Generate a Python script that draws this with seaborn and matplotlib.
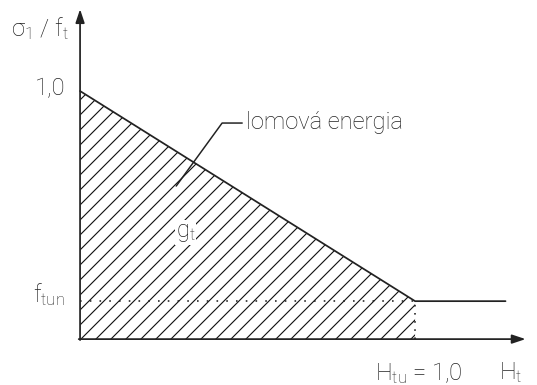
import matplotlib
matplotlib.use("Agg")
import matplotlib.pyplot as plt
import seaborn as sns
import pandas as pd

# values
curve_x = [0.0, 1.0, 1.27]      # H_t
curve_y = [1.0, 0.153, 0.153]   # sigma_1 / f_t
f_tun = 0.153
h_tu = 1.0
x_end = 1.33
y_end = 1.33

sns.set_style("white")
plt.rcParams['font.family'] = ['Roboto', 'DejaVu Sans']
plt.rcParams['font.weight'] = 'light'
plt.rcParams['mathtext.default'] = 'regular'
plt.rcParams['hatch.linewidth'] = 0.9
plt.rcParams['hatch.color'] = '#111111'

dpi = 90
fig = plt.figure(figsize=(537 / dpi, 385 / dpi), dpi=dpi)
ax = fig.add_axes([0, 0, 1, 1])
ax.set_xlim(-0.239, 1.364)
ax.set_ylim(-0.185, 1.367)
ax.axis('off')

lc = '#222222'

# hatched area (fracture energy)
ax.fill_between(curve_x[:2], curve_y[:2], 0, facecolor='none',
                edgecolor='#111111', hatch='//', linewidth=0)

# softening curve
df = pd.DataFrame({'H': curve_x, 's': curve_y})
sns.lineplot(data=df, x='H', y='s', ax=ax, color=lc, linewidth=1.4)

# dotted helpers
ax.plot([0, h_tu], [f_tun, f_tun], color=lc, linestyle=(0, (1, 5)), linewidth=1.3)
ax.plot([h_tu, h_tu], [0, f_tun], color=lc, linestyle=(0, (1, 4)), linewidth=1.3)

# axes with arrows
arrow = dict(arrowstyle='-|>,head_length=0.9,head_width=0.3', color=lc,
             linewidth=1.4, shrinkA=0, shrinkB=0)
ax.annotate('', xy=(0, y_end), xytext=(0, -0.004), arrowprops=arrow)
ax.annotate('', xy=(x_end, 0), xytext=(-0.004, 0), arrowprops=arrow)

fs = 19
ax.text(-0.205, 1.25, 'σ$_1$ / f$_t$', fontsize=fs, ha='left', va='center', color=lc)
ax.text(-0.135, 1.01, '1,0', fontsize=fs, ha='left', va='center', color=lc)
ax.text(-0.14, 0.18, 'f$_{tun}$', fontsize=fs, ha='left', va='center', color=lc)
ax.text(0.88, -0.135, 'H$_{tu}$ = 1,0', fontsize=fs, ha='left', va='center', color=lc)
ax.text(1.25, -0.135, 'H$_t$', fontsize=fs, ha='left', va='center', color=lc)
ax.text(0.495, 0.875, 'lomová energia', fontsize=fs, ha='left', va='center', color=lc)
ax.text(0.285, 0.43, 'g$_t$', fontsize=fs, ha='left', va='center', color=lc,
        bbox=dict(facecolor='white', edgecolor='none', pad=0.5))

# leader line
ax.plot([0.484, 0.424, 0.287], [0.871, 0.871, 0.617], color=lc, linewidth=1.2)

fig.savefig('out.png', dpi=dpi)
